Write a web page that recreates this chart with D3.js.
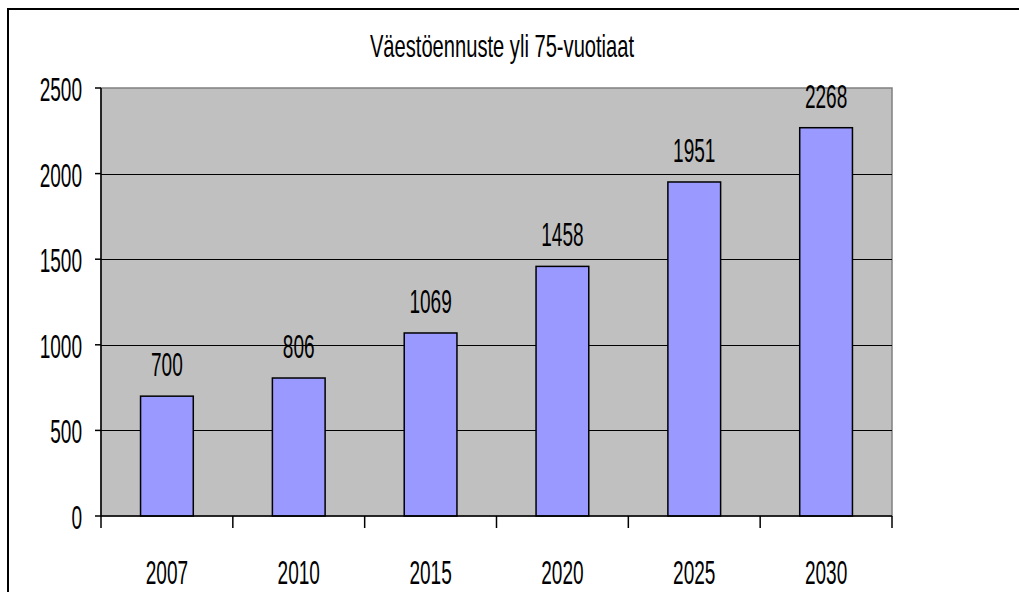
<!DOCTYPE html>
<html>
<head>
<meta charset="utf-8">
<script src="https://cdn.jsdelivr.net/npm/d3@7"></script>
<style>
  body { margin: 0; background: #fff; }
  svg { display: block; }
  text { font-family: "Liberation Sans", Arial, sans-serif; fill: #000; }
</style>
</head>
<body>
<svg id="chart" width="1019" height="592"></svg>
<script>
// data
var years = ["2007", "2010", "2015", "2020", "2025", "2030"];
var counts = [700, 806, 1069, 1458, 1951, 2268];
var yTicks = [0, 500, 1000, 1500, 2000, 2500];
var title = "Väestöennuste yli 75-vuotiaat";

var svg = d3.select("#chart");
var sx = 0.56; // the original text is squeezed sideways

var plotL = 101, plotR = 892, plotT = 88, plotB = 516;

var x = d3.scaleBand().domain(years).range([plotL, plotR]).padding(0);
var y = d3.scaleLinear().domain([0, 2500]).range([plotB, plotT]);

var barW = x.bandwidth() * 0.4;

// outer frame (only top and left visible)
svg.append("path")
  .attr("d", "M8,592 L8,9 L1019,9")
  .attr("fill", "none")
  .attr("stroke", "#000")
  .attr("stroke-width", 2);

// plot area
svg.append("rect")
  .attr("x", plotL).attr("y", plotT)
  .attr("width", plotR - plotL).attr("height", plotB - plotT)
  .attr("fill", "#c0c0c0")
  .attr("stroke", "#808080")
  .attr("stroke-width", 1.5);

// gridlines
svg.selectAll(".grid")
  .data(yTicks.filter(function(d) { return d > 0 && d < 2500; }))
  .enter().append("line")
  .attr("x1", plotL).attr("x2", plotR)
  .attr("y1", function(d) { return Math.round(y(d)) + 0.5; })
  .attr("y2", function(d) { return Math.round(y(d)) + 0.5; })
  .attr("stroke", "#000")
  .attr("stroke-width", 1);

// bars
svg.selectAll(".bar")
  .data(counts)
  .enter().append("rect")
  .attr("x", function(d, i) { return x(years[i]) + (x.bandwidth() - barW) / 2; })
  .attr("y", function(d) { return y(d); })
  .attr("width", barW)
  .attr("height", function(d) { return plotB - y(d); })
  .attr("fill", "#9999ff")
  .attr("stroke", "#000")
  .attr("stroke-width", 1.5);

// axes lines
svg.append("line")
  .attr("x1", plotL).attr("x2", plotL).attr("y1", plotT).attr("y2", plotB)
  .attr("stroke", "#000").attr("stroke-width", 1.5);
svg.append("line")
  .attr("x1", plotL).attr("x2", plotR).attr("y1", plotB).attr("y2", plotB)
  .attr("stroke", "#000").attr("stroke-width", 1.5);

// y ticks
svg.selectAll(".ytick")
  .data(yTicks)
  .enter().append("line")
  .attr("x1", plotL - 6).attr("x2", plotL)
  .attr("y1", function(d) { return y(d); })
  .attr("y2", function(d) { return y(d); })
  .attr("stroke", "#000").attr("stroke-width", 1.5);

svg.selectAll(".ylab")
  .data(yTicks)
  .enter().append("text")
  .attr("transform", function(d) { return "translate(82," + (y(d) + 13) + ") scale(" + sx + ",1)"; })
  .attr("text-anchor", "end")
  .style("font-size", "34px")
  .text(function(d) { return d; });

// x ticks at band edges
var edges = years.map(function(d) { return x(d); }).concat([plotR]);
svg.selectAll(".xtick")
  .data(edges)
  .enter().append("line")
  .attr("x1", function(d) { return d; }).attr("x2", function(d) { return d; })
  .attr("y1", plotB).attr("y2", plotB + 12)
  .attr("stroke", "#000").attr("stroke-width", 1.5);

svg.selectAll(".xlab")
  .data(years)
  .enter().append("text")
  .attr("transform", function(d) { return "translate(" + (x(d) + x.bandwidth() / 2) + ",584) scale(" + sx + ",1)"; })
  .attr("text-anchor", "middle")
  .style("font-size", "34px")
  .text(function(d) { return d; });

// value labels
svg.selectAll(".vlab")
  .data(counts)
  .enter().append("text")
  .attr("transform", function(d, i) { return "translate(" + (x(years[i]) + x.bandwidth() / 2) + "," + (y(d) - 20) + ") scale(" + sx + ",1)"; })
  .attr("text-anchor", "middle")
  .style("font-size", "34px")
  .text(function(d) { return d; });

// title
svg.append("text")
  .attr("transform", "translate(502,57) scale(0.65,1)")
  .attr("text-anchor", "middle")
  .style("font-size", "31px")
  .text(title);
</script>
</body>
</html>
